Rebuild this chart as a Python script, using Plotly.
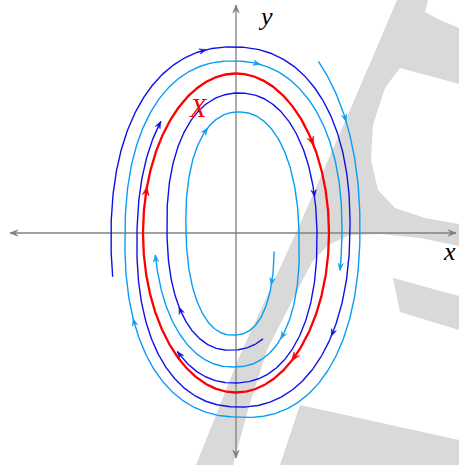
import numpy as np
import plotly.graph_objects as go

W, H = 459, 465
CX, CY = 236, 233          # origin position on the canvas (pixels)

# ---- closed orbit (limit cycle) ------------------------------------------
CYCLE_RX, CYCLE_RY = 93, 159.5
CYCLE_ARROWS = [2.17, 3.61, 4.57]

# ---- trajectories ----------------------------------------------------------
# q counts quarter turns clockwise: 0 = right, 1 = bottom, 2 = left, 3 = top ...
# half-widths are given at even q, half-heights at odd q.
OUTER_DARK = dict(hq=[0, 2, 4, 6, 8], hr=[130, 125, 114, 99, 85],
                  vq=[1, 3, 5, 7], vr=[200, 186, 174, 160],
                  span=[1.88, 6.45], arrows=[2.85, 4.35])
OUTER_LIGHT = dict(hq=[2, 4, 6, 8, 10], hr=[128, 124, 111, 106, 100],
                   vq=[3, 5, 7, 9], vr=[222, 184, 172, 160],
                   span=[3.43, 8.12], arrows=[3.66, 5.7, 7.1])
INNER_DARK = dict(hq=[0, 2, 4, 6], hr=[60, 69, 81, 88],
                  vq=[-1, 1, 3, 5, 7], vr=[90, 117, 140, 150, 155],
                  span=[0.75, 5.45], arrows=[1.6, 3.85])
INNER_LIGHT = dict(hq=[0, 2, 4, 6], hr=[38, 50, 63, 82],
                   vq=[-1, 1, 3, 5, 7], vr=[90, 102, 121, 134, 145],
                   span=[0.1, 5.92], arrows=[0.3, 2.65, 4.55])

DARK_BLUE = "#1010e8"
LIGHT_BLUE = "#0a9cf5"
RED = "#ff0000"
AXIS_GREY = "#808080"
MARK_GREY = "#d9d9d9"

SQUARENESS = 2.25      # super-ellipse exponent of the spiralling trajectories


def orbit(hq, hr, vq, vr, q, n=SQUARENESS):
    q = np.asarray(q, dtype=float)
    a = np.interp(q, hq, hr)
    b = np.interp(q, vq, vr)
    phi = q * np.pi / 2
    c, s = np.cos(phi), np.sin(phi)
    e = 2.0 / n
    x = a * np.sign(c) * np.abs(c) ** e
    y = -b * np.sign(s) * np.abs(s) ** e
    return x, y


def head(tip, d, length, width):
    d = np.asarray(d, float)
    d = d / np.hypot(*d)
    nrm = np.array([-d[1], d[0]])
    t = np.asarray(tip, float)
    pts = [t,
           t - d * length + nrm * width,
           t - d * length * 0.62,
           t - d * length - nrm * width,
           t]
    return [p[0] for p in pts], [p[1] for p in pts]


fig = go.Figure()

# background mark (canvas pixel outline, converted to plot units)
MARK_PARTS = [
    [(397, 0), (428, 0), (425, 12), (440, 20), (459, 28), (459, 84), (430, 76),
     (400, 68), (385, 88), (373, 125), (371, 160), (378, 190), (395, 208),
     (425, 218), (459, 224), (459, 246), (420, 238), (380, 234), (350, 235),
     (328, 245), (312, 262), (290, 305), (267, 350), (248, 410), (233, 465),
     (196, 465), (240, 355), (296, 233), (350, 110), (380, 40)],
    [(393, 278), (459, 296), (459, 330), (400, 312)],
    [(300, 405), (459, 440), (459, 465), (280, 465)],
]
for part in MARK_PARTS:
    path = "M " + " L ".join(f"{px - CX},{CY - py}" for px, py in part) + " Z"
    fig.add_shape(type="path", path=path, xref="x", yref="y",
                  fillcolor=MARK_GREY, line=dict(width=0), layer="below")

# axes
AX_X = [-226, 220]
AX_Y = [-225, 228]
fig.add_trace(go.Scatter(x=AX_X, y=[0, 0], mode="lines",
                         line=dict(color=AXIS_GREY, width=1.3), hoverinfo="skip"))
fig.add_trace(go.Scatter(x=[0, 0], y=AX_Y, mode="lines",
                         line=dict(color=AXIS_GREY, width=1.3), hoverinfo="skip"))
ax_heads_x, ax_heads_y = [], []
for tip, d in [((AX_X[1], 0), (1, 0)), ((AX_X[0], 0), (-1, 0)),
               ((0, AX_Y[1]), (0, 1)), ((0, AX_Y[0]), (0, -1))]:
    hx, hy = head(tip, d, 8, 3.2)
    ax_heads_x += hx + [None]
    ax_heads_y += hy + [None]
fig.add_trace(go.Scatter(x=ax_heads_x, y=ax_heads_y, mode="lines", fill="toself",
                         fillcolor=AXIS_GREY, line=dict(color=AXIS_GREY, width=0.6),
                         hoverinfo="skip"))


def add_curve(xs, ys, color, width, arrow_pts, L, wd):
    fig.add_trace(go.Scatter(x=xs, y=ys, mode="lines",
                             line=dict(color=color, width=width), hoverinfo="skip"))
    hx_all, hy_all = [], []
    for tip, d in arrow_pts:
        hx, hy = head(tip, d, L, wd)
        hx_all += hx + [None]
        hy_all += hy + [None]
    fig.add_trace(go.Scatter(x=hx_all, y=hy_all, mode="lines", fill="toself",
                             fillcolor=color, line=dict(color=color, width=0.6),
                             hoverinfo="skip"))


def traj(spec, color):
    q = np.linspace(spec["span"][0], spec["span"][1], 600)
    xs, ys = orbit(spec["hq"], spec["hr"], spec["vq"], spec["vr"], q)
    arrows = []
    for qa in spec["arrows"]:
        px, py = orbit(spec["hq"], spec["hr"], spec["vq"], spec["vr"], [qa - 0.01, qa + 0.01])
        mx, my = (px[0] + px[1]) / 2, (py[0] + py[1]) / 2
        d = (px[1] - px[0], py[1] - py[0])
        dn = np.hypot(*d)
        arrows.append(((mx + 3.5 * d[0] / dn, my + 3.5 * d[1] / dn), d))
    arrows.append(((xs[-1], ys[-1]), (xs[-1] - xs[-3], ys[-1] - ys[-3])))
    add_curve(xs, ys, color, 1.4, arrows, 7, 2.7)


traj(OUTER_DARK, DARK_BLUE)
traj(OUTER_LIGHT, LIGHT_BLUE)
traj(INNER_DARK, DARK_BLUE)
traj(INNER_LIGHT, LIGHT_BLUE)

# limit cycle
t = np.linspace(0, 4, 800)
cyc = dict(hq=[0, 4], hr=[CYCLE_RX, CYCLE_RX], vq=[0, 4], vr=[CYCLE_RY, CYCLE_RY])
cx_, cy_ = orbit(cyc["hq"], cyc["hr"], cyc["vq"], cyc["vr"], t, n=2)
c_arrows = []
for qa in CYCLE_ARROWS:
    px, py = orbit(cyc["hq"], cyc["hr"], cyc["vq"], cyc["vr"], [qa - 0.01, qa + 0.01], n=2)
    d = (px[1] - px[0], py[1] - py[0])
    dn = np.hypot(*d)
    c_arrows.append((((px[0] + px[1]) / 2 + 4.5 * d[0] / dn,
                      (py[0] + py[1]) / 2 + 4.5 * d[1] / dn), d))
add_curve(cx_, cy_, RED, 2.3, c_arrows, 9, 3.4)

# labels
LABEL_FONT = "Liberation Serif"
fig.add_annotation(x=29, y=217, text="<i>y</i>", showarrow=False,
                   font=dict(family=LABEL_FONT, size=26, color="black"))
fig.add_annotation(x=222, y=-18, text="<i>x</i>", showarrow=False,
                   xanchor="right",
                   font=dict(family=LABEL_FONT, size=26, color="black"))
fig.add_annotation(x=-38, y=125, text="<i>X</i>", showarrow=False,
                   font=dict(family=LABEL_FONT, size=27, color=RED))

fig.update_layout(
    width=W, height=H, margin=dict(l=0, r=0, t=0, b=0),
    paper_bgcolor="white", plot_bgcolor="white", showlegend=False,
    xaxis=dict(range=[-CX, W - CX], visible=False, fixedrange=True),
    yaxis=dict(range=[CY - H, CY], visible=False, fixedrange=True),
)
fig.write_html("out.html")
